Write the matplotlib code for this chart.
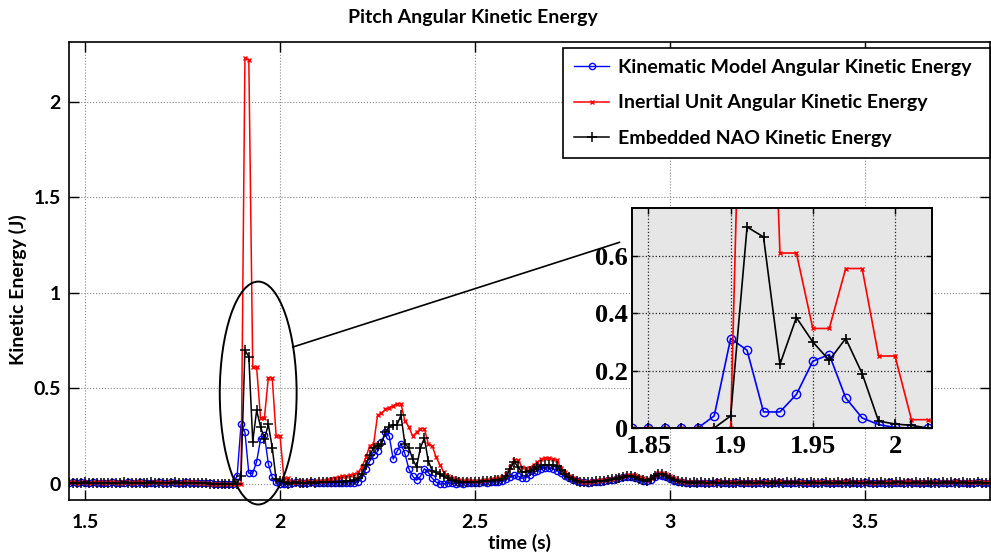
import numpy as np
import matplotlib
matplotlib.use('Agg')
import matplotlib.pyplot as plt
from matplotlib.patches import Ellipse

# sample times (100 Hz), 1.46 s .. 3.82 s
time = np.round(np.arange(146, 383) / 100, 2)

# Kinematic model angular kinetic energy (blue, o)
kinematic = [
    0.005, 0.008, 0.004, 0.009, 0.006, 0.003, 0.008, 0.005, 0.007, 0.004,
    0.006, 0.009, 0.005, 0.003, 0.007, 0.008, 0.004, 0.006, 0.009, 0.005,
    0.004, 0.007, 0.006, 0.008, 0.003, 0.005, 0.009, 0.006, 0.004, 0.007,
    0.008, 0.005, 0.006, 0.004, 0.007, 0.005, 0.003, 0.002, 0.0, 0.0,
    0.0, 0.0, 0.0, 0.042, 0.312, 0.271, 0.056, 0.056, 0.117, 0.233,
    0.256, 0.105, 0.035, 0.012, 0.002, 0.0, 0.0, 0.004, 0.008, 0.005,
    0.006, 0.003, 0.008, 0.005, 0.004, 0.007, 0.003, 0.006, 0.004, 0.005,
    0.006, 0.004, 0.007, 0.005, 0.01, 0.03, 0.08, 0.12, 0.15, 0.17,
    0.22, 0.27, 0.25, 0.13, 0.17, 0.21, 0.16, 0.08, 0.04, 0.02,
    0.04, 0.08, 0.06, 0.03, 0.01, 0.0, 0.0, 0.003, 0.005, 0.002,
    0.004, 0.002, 0.005, 0.003, 0.006, 0.004, 0.008, 0.006, 0.01, 0.008,
    0.012, 0.015, 0.025, 0.035, 0.045, 0.04, 0.03, 0.032, 0.045, 0.06,
    0.07, 0.08, 0.085, 0.083, 0.08, 0.07, 0.055, 0.04, 0.03, 0.02,
    0.015, 0.01, 0.008, 0.006, 0.008, 0.01, 0.012, 0.015, 0.02, 0.022,
    0.025, 0.03, 0.035, 0.038, 0.035, 0.03, 0.025, 0.018, 0.015, 0.022,
    0.035, 0.045, 0.042, 0.035, 0.025, 0.018, 0.012, 0.008, 0.006, 0.005,
    0.006, 0.004, 0.007, 0.005, 0.003, 0.006, 0.008, 0.005, 0.004, 0.007,
    0.005, 0.008, 0.004, 0.006, 0.003, 0.007, 0.005, 0.004, 0.008, 0.006,
    0.004, 0.006, 0.009, 0.005, 0.007, 0.004, 0.006, 0.008, 0.005, 0.003,
    0.007, 0.005, 0.004, 0.008, 0.006, 0.005, 0.007, 0.004, 0.006, 0.009,
    0.005, 0.007, 0.004, 0.006, 0.008, 0.005, 0.003, 0.007, 0.006, 0.004,
    0.008, 0.005, 0.006, 0.004, 0.007, 0.009, 0.005, 0.006, 0.004, 0.007,
    0.006, 0.004, 0.008, 0.005, 0.007, 0.006, 0.004, 0.009, 0.005, 0.006,
    0.007, 0.005, 0.004, 0.008, 0.006, 0.005, 0.007,
]

# Inertial unit angular kinetic energy (red, x)
inertial = [
    0.008, 0.012, 0.007, 0.011, 0.009, 0.006, 0.012, 0.008, 0.01, 0.007,
    0.009, 0.012, 0.008, 0.006, 0.011, 0.01, 0.007, 0.009, 0.012, 0.008,
    0.007, 0.01, 0.009, 0.011, 0.006, 0.008, 0.012, 0.009, 0.007, 0.01,
    0.011, 0.008, 0.009, 0.007, 0.006, 0.004, 0.002, 0.001, 0.0, 0.0,
    0.0, 0.0, 0.0, 0.0, 0.0, 2.23, 2.22, 0.61, 0.61, 0.347,
    0.347, 0.556, 0.556, 0.251, 0.251, 0.029, 0.029, 0.012, 0.01, 0.014,
    0.011, 0.014, 0.01, 0.013, 0.016, 0.018, 0.022, 0.028, 0.033, 0.035,
    0.04, 0.04, 0.045, 0.05, 0.06, 0.09, 0.14, 0.20, 0.21, 0.36,
    0.37, 0.39, 0.40, 0.41, 0.42, 0.42, 0.33, 0.30, 0.25, 0.27,
    0.29, 0.29, 0.21, 0.20, 0.14, 0.10, 0.06, 0.04, 0.03, 0.025,
    0.02, 0.018, 0.02, 0.015, 0.018, 0.016, 0.02, 0.022, 0.025, 0.028,
    0.03, 0.035, 0.05, 0.09, 0.126, 0.126, 0.09, 0.082, 0.085, 0.1,
    0.115, 0.13, 0.134, 0.134, 0.13, 0.125, 0.084, 0.06, 0.04, 0.03,
    0.02, 0.015, 0.012, 0.012, 0.014, 0.016, 0.02, 0.022, 0.025, 0.028,
    0.03, 0.035, 0.04, 0.045, 0.047, 0.045, 0.038, 0.03, 0.022, 0.03,
    0.045, 0.055, 0.057, 0.05, 0.04, 0.03, 0.02, 0.014, 0.01, 0.009,
    0.011, 0.008, 0.012, 0.009, 0.007, 0.01, 0.013, 0.009, 0.008, 0.011,
    0.009, 0.012, 0.008, 0.01, 0.007, 0.011, 0.009, 0.008, 0.012, 0.01,
    0.008, 0.01, 0.013, 0.009, 0.011, 0.008, 0.01, 0.012, 0.009, 0.007,
    0.011, 0.009, 0.008, 0.012, 0.01, 0.009, 0.011, 0.008, 0.01, 0.013,
    0.009, 0.011, 0.008, 0.01, 0.012, 0.009, 0.007, 0.011, 0.01, 0.008,
    0.012, 0.009, 0.01, 0.008, 0.011, 0.013, 0.009, 0.01, 0.008, 0.011,
    0.01, 0.008, 0.012, 0.009, 0.011, 0.01, 0.008, 0.013, 0.009, 0.01,
    0.011, 0.009, 0.008, 0.012, 0.01, 0.009, 0.011,
]

# Embedded NAO kinetic energy (black, +)
nao = [
    0.006, 0.004, 0.007, 0.005, 0.008, 0.005, 0.004, 0.007, 0.006, 0.005,
    0.007, 0.005, 0.006, 0.004, 0.008, 0.006, 0.005, 0.007, 0.004, 0.006,
    0.005, 0.008, 0.006, 0.004, 0.007, 0.005, 0.006, 0.008, 0.005, 0.004,
    0.006, 0.007, 0.005, 0.006, 0.004, 0.003, 0.002, 0.001, 0.0, 0.0,
    0.0, 0.0, 0.0, 0.0, 0.042, 0.701, 0.666, 0.222, 0.385, 0.30,
    0.236, 0.312, 0.19, 0.024, 0.014, 0.009, 0.0, 0.005, 0.008, 0.006,
    0.007, 0.005, 0.009, 0.006, 0.008, 0.01, 0.009, 0.011, 0.01, 0.012,
    0.012, 0.014, 0.015, 0.02, 0.03, 0.05, 0.10, 0.15, 0.19, 0.20,
    0.21, 0.27, 0.30, 0.31, 0.31, 0.36, 0.21, 0.19, 0.13, 0.09,
    0.19, 0.24, 0.12, 0.07, 0.06, 0.05, 0.04, 0.03, 0.02, 0.015,
    0.012, 0.01, 0.012, 0.008, 0.01, 0.012, 0.015, 0.014, 0.018, 0.02,
    0.022, 0.025, 0.04, 0.08, 0.117, 0.09, 0.06, 0.065, 0.07, 0.08,
    0.09, 0.099, 0.1, 0.1, 0.099, 0.095, 0.075, 0.05, 0.035, 0.025,
    0.018, 0.012, 0.01, 0.01, 0.012, 0.014, 0.016, 0.018, 0.02, 0.024,
    0.027, 0.032, 0.038, 0.042, 0.04, 0.035, 0.028, 0.022, 0.018, 0.025,
    0.04, 0.05, 0.05, 0.042, 0.032, 0.022, 0.015, 0.01, 0.008, 0.007,
    0.008, 0.006, 0.009, 0.007, 0.005, 0.008, 0.006, 0.007, 0.009, 0.006,
    0.007, 0.005, 0.008, 0.006, 0.009, 0.007, 0.005, 0.008, 0.006, 0.007,
    0.006, 0.008, 0.005, 0.007, 0.009, 0.006, 0.008, 0.005, 0.007, 0.006,
    0.008, 0.006, 0.007, 0.005, 0.009, 0.007, 0.006, 0.008, 0.005, 0.007,
    0.006, 0.008, 0.007, 0.005, 0.006, 0.009, 0.007, 0.006, 0.008, 0.005,
    0.007, 0.006, 0.008, 0.009, 0.005, 0.007, 0.006, 0.008, 0.007, 0.005,
    0.008, 0.006, 0.007, 0.005, 0.009, 0.006, 0.008, 0.007, 0.006, 0.008,
    0.006, 0.007, 0.005, 0.008, 0.006, 0.007, 0.006,
]

labels = ['Kinematic Model Angular Kinetic Energy',
          'Inertial Unit Angular Kinetic Energy',
          'Embedded NAO Kinetic Energy']

main_xticks = [1.5, 2, 2.5, 3, 3.5]
main_xticklabels = ['1.5', '2', '2.5', '3', '3.5']
main_yticks = [0, 0.5, 1, 1.5, 2]
main_yticklabels = ['0', '0.5', '1', '1.5', '2']
inset_xticks = [1.85, 1.9, 1.95, 2]
inset_xticklabels = ['1.85', '1.9', '1.95', '2']
inset_yticks = [0, 0.2, 0.4, 0.6]
inset_yticklabels = ['0', '0.2', '0.4', '0.6']

sans = ['Lato', 'DejaVu Sans']
serif = ['Liberation Serif', 'DejaVu Serif']
fs = 14

W, H = 991, 555
fig = plt.figure(figsize=(W / 100, H / 100), dpi=100)


def fx(px):
    return px / W


def fy(py):
    return 1 - py / H


# ---- main axes ----
ax = fig.add_axes([fx(69), fy(500), fx(990 - 69), (500 - 42) / H])
ax.plot(time, kinematic, color='#0000ff', lw=1, marker='o', ms=4.5,
        mfc='none', mew=1, label=labels[0])
ax.plot(time, inertial, color='#ff0000', lw=1.1, marker='x', ms=3.5,
        mew=1, label=labels[1])
ax.plot(time, nao, color='black', lw=1.1, marker='+', ms=6.5,
        mew=1.1, label=labels[2])
ax.set_xlim(1.459, 3.82)
ax.set_ylim(-0.084, 2.314)
ax.set_xticks(main_xticks)
ax.set_xticklabels(main_xticklabels)
ax.set_yticks(main_yticks)
ax.set_yticklabels(main_yticklabels)
ax.tick_params(direction='in', length=7, width=1, top=True, right=True,
               labelsize=fs)
ax.tick_params(axis='x', pad=10)
ax.tick_params(axis='y', pad=6)
for lab in ax.get_xticklabels() + ax.get_yticklabels():
    lab.set_fontfamily(sans)
    lab.set_fontweight('bold')
ax.grid(True, linestyle=':', color='#888888', lw=0.8)
for s in ax.spines.values():
    s.set_linewidth(1.2)

# ellipse around the first peak + connector to the zoom
ell = Ellipse((1.944, 0.476), 0.197, 1.167, fill=False, ec='black', lw=1.4,
              clip_on=False, zorder=5)
ax.add_patch(ell)
ax.plot([2.033, 2.87], [0.717, 1.265], color='black', lw=1.2,
        clip_on=False, zorder=5)

# titles and labels
fig.text(fx(473), fy(17), 'Pitch Angular Kinetic Energy', ha='center',
         va='center', fontsize=fs, fontweight='bold', family=sans)
fig.text(fx(519), fy(543), 'time (s)', ha='center', va='center',
         fontsize=fs, fontweight='bold', family=sans)
fig.text(fx(18), fy(290), 'Kinetic Energy (J)', ha='center', va='center',
         rotation=90, fontsize=fs, fontweight='bold', family=sans)

# legend
leg = ax.legend(loc='upper left',
                bbox_to_anchor=(fx(563), fy(157), fx(990 - 563), (157 - 48) / H),
                bbox_transform=fig.transFigure, mode='expand',
                borderaxespad=0, numpoints=1, handlelength=1.8,
                handletextpad=0.45, labelspacing=0.94, borderpad=0.57,
                fancybox=False, framealpha=1, edgecolor='black',
                prop={'family': sans, 'weight': 'bold', 'size': fs})
leg.get_frame().set_linewidth(1.2)

# ---- inset ----
ins = fig.add_axes([fx(632), fy(428), fx(300), 220 / H])
ins.set_facecolor('#e6e6e6')
ins.plot(time, kinematic, color='#0000ff', lw=1.2, marker='o', ms=6,
         mfc='none', mew=1)
ins.plot(time, inertial, color='#ff0000', lw=1.2, marker='x', ms=3.5,
         mew=1)
ins.plot(time, nao, color='black', lw=1.2, marker='+', ms=7, mew=1.2)
ins.set_xlim(1.84, 2.0225)
ins.set_ylim(0, 0.767)
ins.set_xticks(inset_xticks)
ins.set_xticklabels(inset_xticklabels)
ins.set_yticks(inset_yticks)
ins.set_yticklabels(inset_yticklabels)
ins.tick_params(direction='in', length=4, width=1, top=True, right=True,
                labelsize=19)
ins.tick_params(axis='x', pad=5)
ins.tick_params(axis='y', pad=3)
for lab in ins.get_xticklabels() + ins.get_yticklabels():
    lab.set_fontfamily(serif)
    lab.set_fontweight('bold')
ins.grid(True, linestyle=':', color='#222222', lw=0.9)
for s in ins.spines.values():
    s.set_linewidth(1.4)

fig.savefig('out.png', dpi=100)
